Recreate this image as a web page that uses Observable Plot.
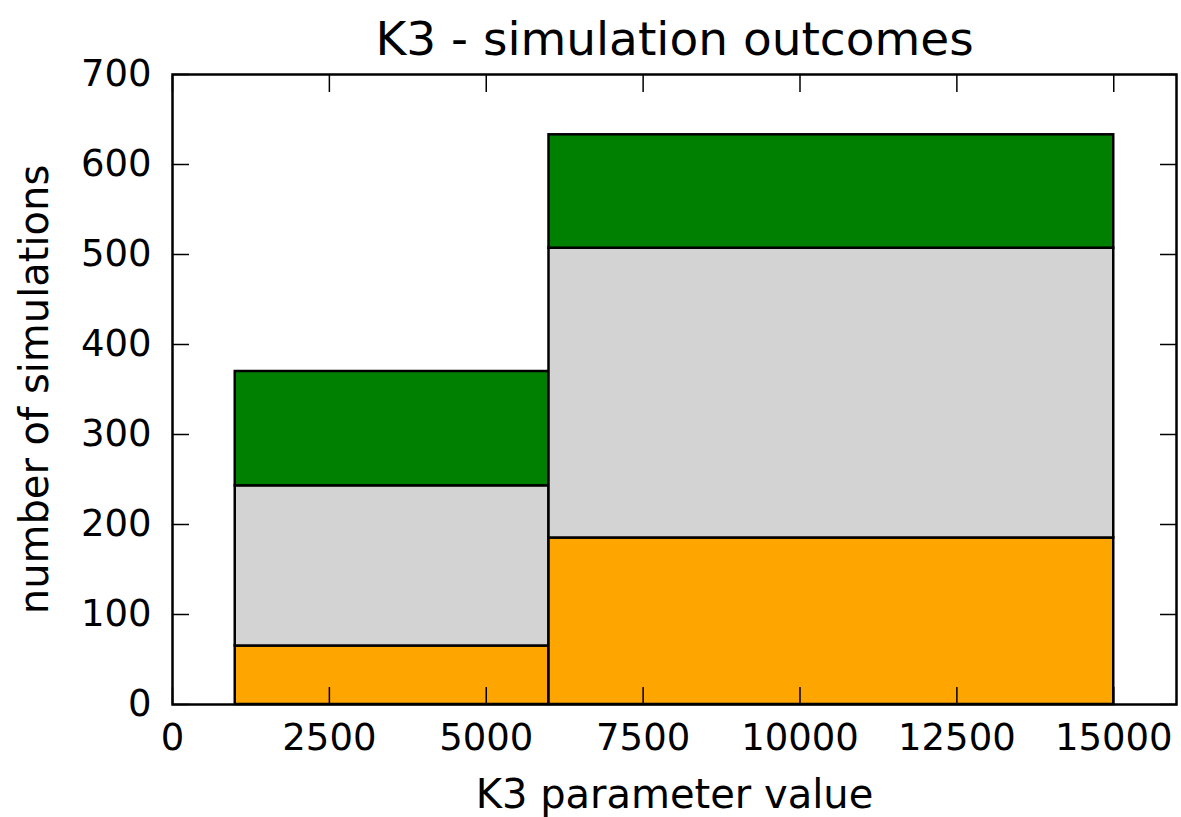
<!DOCTYPE html>
<html>
<head>
<meta charset="utf-8">
<script src="https://cdn.jsdelivr.net/npm/d3@7"></script>
<script src="https://cdn.jsdelivr.net/npm/@observablehq/plot@0.6"></script>
<style>
  body { margin: 0; background: #fff; }
</style>
</head>
<body>
<div id="chart"></div>
<script>
// K3 parameter bins (lower and upper edges)
const binStart = [1000, 6000];
const binEnd = [6000, 15000];

// Simulation counts per outcome, bottom to top of each stack
const seriesNames = ["orange", "lightgrey", "green"];
const orangeCounts = [65, 185];
const greyCounts = [178, 322];
const greenCounts = [127, 126];
const seriesColors = ["#ffa500", "#d3d3d3", "#008000"];

// Axis ticks
const xTicks = [0, 2500, 5000, 7500, 10000, 12500, 15000];
const yTicks = [0, 100, 200, 300, 400, 500, 600, 700];

// Stack the three outcomes within each bin
const countsBySeries = [orangeCounts, greyCounts, greenCounts];
const rows = [];
binStart.forEach((start, i) => {
  let base = 0;
  seriesNames.forEach((name, s) => {
    const n = countsBySeries[s][i];
    rows.push({series: name, x1: start, x2: binEnd[i], y1: base, y2: base + n});
    base += n;
  });
});

const chart = Plot.plot({
  width: 1181,
  height: 817,
  marginLeft: 172,
  marginRight: 5,
  marginTop: 74,
  marginBottom: 113,
  x: {domain: [0, 16000]},
  y: {domain: [0, 700]},
  color: {domain: seriesNames, range: seriesColors},
  style: {fontFamily: "'DejaVu Sans', sans-serif", fontSize: "37px", color: "#000", background: "#fff"},
  marks: [
    Plot.rect(rows, {x1: "x1", x2: "x2", y1: "y1", y2: "y2", fill: "series", stroke: "black", strokeWidth: 2.5}),
    Plot.frame({stroke: "black", strokeWidth: 2.5}),
    // inward tick marks on all four sides
    Plot.axisX({anchor: "bottom", ticks: xTicks, tickSize: -17, tickFormat: () => "", label: null, strokeWidth: 1.5}),
    Plot.axisX({anchor: "top", ticks: xTicks, tickSize: -17, tickFormat: () => "", label: null, strokeWidth: 1.5}),
    Plot.axisY({anchor: "left", ticks: yTicks, tickSize: -17, tickFormat: () => "", label: null, strokeWidth: 1.5}),
    Plot.axisY({anchor: "right", ticks: yTicks, tickSize: -17, tickFormat: () => "", label: null, strokeWidth: 1.5}),
    // tick labels
    Plot.axisX({anchor: "bottom", ticks: xTicks, tickSize: 0, tickPadding: 19, tickFormat: d => String(d), label: null}),
    Plot.axisY({anchor: "left", ticks: yTicks, tickSize: 0, tickPadding: 21, tickFormat: d => String(d), label: null}),
    // title and axis labels
    Plot.text(["K3 - simulation outcomes"], {frameAnchor: "top", lineAnchor: "bottom", dy: -20, fontSize: 47}),
    Plot.text(["K3 parameter value"], {frameAnchor: "bottom", lineAnchor: "bottom", dy: 103, fontSize: 40}),
    Plot.text(["number of simulations"], {frameAnchor: "left", textAnchor: "middle", lineAnchor: "middle", dx: -137, rotate: -90, fontSize: 40})
  ]
});
document.getElementById("chart").appendChild(chart);
</script>
</body>
</html>
